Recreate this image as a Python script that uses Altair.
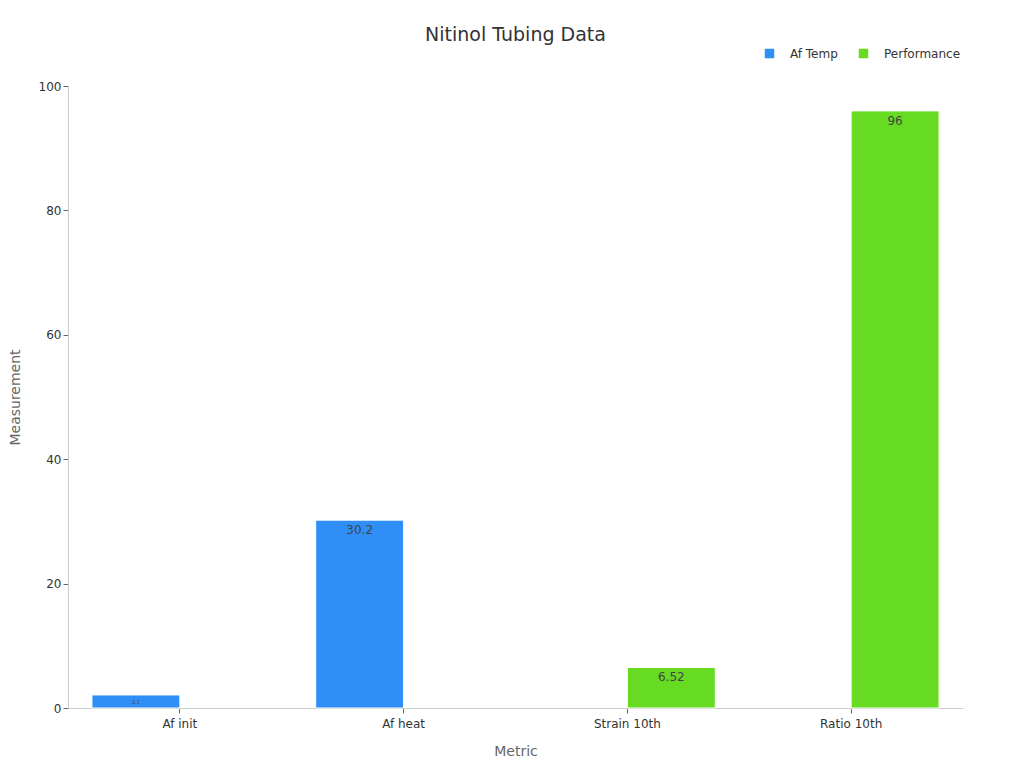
import altair as alt
import pandas as pd

metrics = ["Af init", "Af heat", "Strain 10th", "Ratio 10th"]
series = ["Af Temp", "Af Temp", "Performance", "Performance"]
values = [2.1, 30.2, 6.52, 96]
series_order = ["Af Temp", "Performance"]
colors = ["#2f8ff7", "#66db22"]

df = pd.DataFrame({"Metric": metrics, "Series": series, "Measurement": values})

x = alt.X("Metric:N", sort=metrics, title="Metric",
          scale=alt.Scale(paddingInner=0.214, paddingOuter=0.107),
          axis=alt.Axis(labelAngle=0, labelColor="#333", labelFontSize=12,
                        titleColor="#666", titleFontSize=14, titleFontWeight="normal",
                        domainColor="#ccc", tickColor="#666", labelPadding=5, titlePadding=15))
xoff = alt.XOffset("Series:N", sort=series_order, scale=alt.Scale(domain=series_order))
y = alt.Y("Measurement:Q", title="Measurement",
          scale=alt.Scale(domain=[0, 100]),
          axis=alt.Axis(grid=False, tickCount=5, labelColor="#333", labelFontSize=12,
                        titleColor="#666", titleFontSize=14, titleFontWeight="normal",
                        domainColor="#ccc", tickColor="#666", titleX=-46, titleY=311))

bars = alt.Chart(df).mark_bar(stroke="white", strokeWidth=1).encode(
    x=x, xOffset=xoff, y=y,
    color=alt.Color("Series:N", sort=series_order,
                    scale=alt.Scale(domain=series_order, range=colors),
                    legend=alt.Legend(title=None, orient="none", direction="horizontal",
                                      legendX=695, legendY=-39, symbolType="square",
                                      symbolSize=120, labelFontSize=12, labelColor="#333",
                                      columnPadding=17, labelOffset=14)),
)

labels = alt.Chart(df).mark_text(baseline="top", dy=5, color="#444").encode(
    x=x, xOffset=xoff, y=y,
    text=alt.Text("Measurement:Q"),
    size=alt.condition(alt.datum.Measurement < 5, alt.value(5), alt.value(12)),
)

chart = (bars + labels).properties(
    width=895, height=622,
    title=alt.TitleParams("Nitinol Tubing Data", fontSize=19, fontWeight="normal",
                          color="#333", anchor="middle", offset=2),
    autosize=alt.AutoSizeParams(type="none"),
    padding={"left": 60, "top": 78, "right": 53, "bottom": 52},
).configure(font="DejaVu Sans").configure_view(strokeWidth=0)

chart.save("out.html", embed_options={"renderer": "svg", "actions": False})
